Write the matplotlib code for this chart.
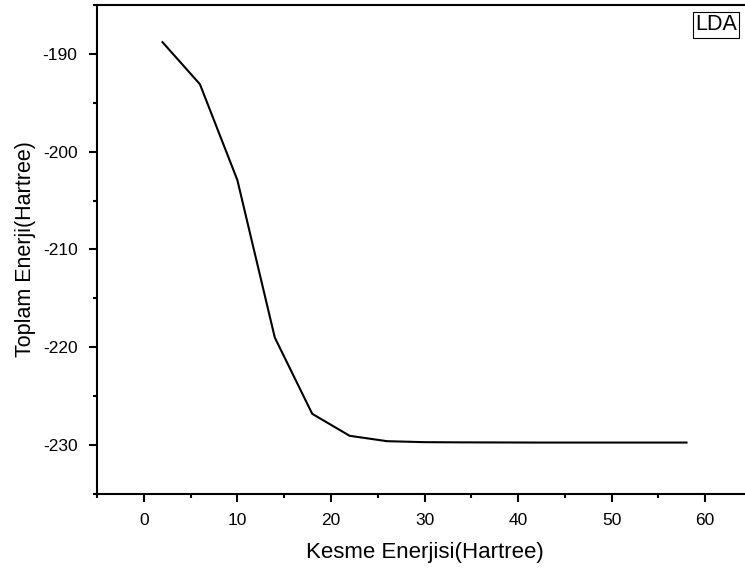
import matplotlib
matplotlib.use("Agg")
import matplotlib.pyplot as plt
from matplotlib.ticker import MultipleLocator

plt.rcParams["font.family"] = ["Liberation Sans", "DejaVu Sans"]
plt.rcParams["axes.unicode_minus"] = False

# Cutoff energy vs total energy (LDA)
cutoff = [2, 6, 10, 14, 18, 22, 26, 30, 34, 38, 42, 46, 50, 54, 58]
energy = [-188.8, -193.1, -202.9, -219.0, -226.8, -229.05, -229.6, -229.7,
          -229.72, -229.73, -229.74, -229.74, -229.74, -229.74, -229.74]

fig = plt.figure(figsize=(7.45, 5.71), dpi=100)
# axes run past the right edge, like the cropped original
ax = fig.add_axes([97 / 745, 1 - 494 / 571, (752 - 97) / 745, (494 - 5) / 571])

ax.plot(cutoff, energy, color="black", lw=1.5)

ax.set_xlim(-5, 65)
ax.set_ylim(-235, -185)
ax.xaxis.set_major_locator(MultipleLocator(10))
ax.xaxis.set_minor_locator(MultipleLocator(5))
ax.yaxis.set_major_locator(MultipleLocator(10))
ax.yaxis.set_minor_locator(MultipleLocator(5))

ax.tick_params(which="both", direction="out", width=1.5, labelsize=12.5)
ax.tick_params(which="major", length=6, pad=8)
ax.tick_params(which="minor", length=3)
ax.spines["right"].set_visible(False)
for s in ["left", "bottom", "top"]:
    ax.spines[s].set_linewidth(1.5)

ax.set_xlabel("Kesme Enerjisi(Hartree)", fontsize=16, labelpad=10)
ax.set_ylabel("Toplam Enerji(Hartree)", fontsize=15.5, labelpad=5)

fig.text(716 / 745, 1 - 25 / 571, "LDA", fontsize=15.5, ha="center", va="center",
         bbox=dict(boxstyle="square,pad=0.1", fc="white", ec="black", lw=0.8))

fig.savefig("out.png", dpi=100)
